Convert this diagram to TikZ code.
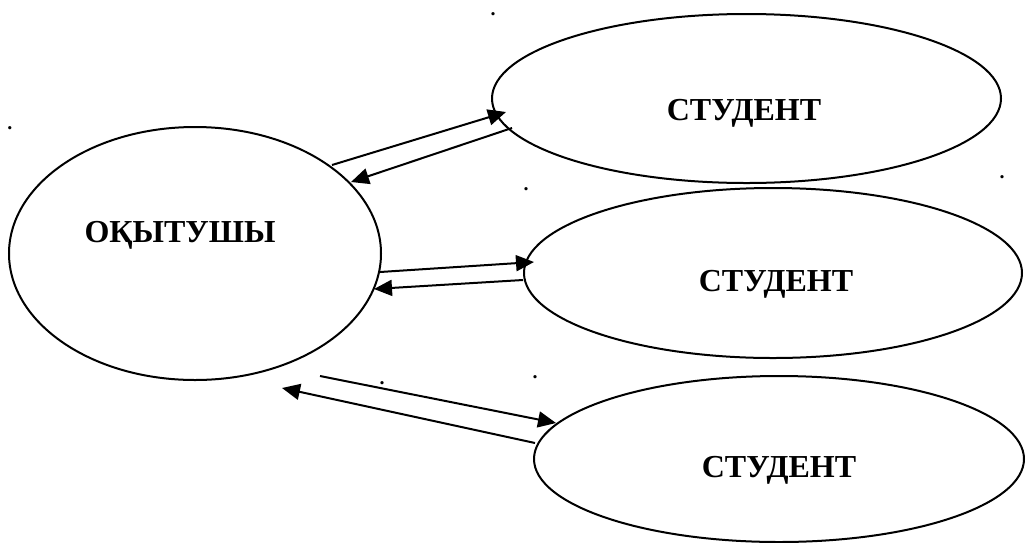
\documentclass[tikz,border=0pt]{standalone}
\usepackage{fontspec}
\setmainfont{Liberation Serif}
\usetikzlibrary{shapes.geometric,arrows.meta}
\tikzset{
  oval/.style={draw, ellipse, line width=2pt, inner sep=0pt, outer sep=0pt},
  lbl/.style={font=\fontsize{32}{36}\selectfont\bfseries, anchor=base, inner sep=0pt},
  link/.style={line width=2pt, -{Triangle[length=18pt,width=16pt]}},
  speck/.style={font=\fontsize{20}{22}\selectfont\bfseries, anchor=base, inner sep=0pt}
}
\begin{document}
\begin{tikzpicture}[x=1pt,y=-1pt]
\useasboundingbox (0,0) rectangle (1026,542);
% ellipses
\node[oval, minimum width=372pt, minimum height=253pt] (T) at (195,253.5) {};
\node[oval, minimum width=509pt, minimum height=169pt] (S1) at (746.5,98.5) {};
\node[oval, minimum width=498pt, minimum height=170pt] (S2) at (773,273) {};
\node[oval, minimum width=490pt, minimum height=166pt] (S3) at (779,459) {};
% labels
\node[lbl] (tT) at (180,242) {ОҚЫТУШЫ};
\node[lbl] (t1) at (744,120) {СТУДЕНТ};
\node[lbl] (t2) at (776,291) {СТУДЕНТ};
\node[lbl] (t3) at (779,477) {СТУДЕНТ};
% arrow end points
\coordinate (a1s) at (332,165);
\coordinate (a1e) at (506,112);
\coordinate (b1s) at (512,128);
\coordinate (b1e) at (351,182);
\coordinate (a2s) at (380,272);
\coordinate (a2e) at (534,262);
\coordinate (b2s) at (523,280);
\coordinate (b2e) at (374,289);
\coordinate (a3s) at (320,376);
\coordinate (a3e) at (556,423);
\coordinate (b3s) at (535,443);
\coordinate (b3e) at (282,388);
\draw[link] (a1s) -- (a1e);
\draw[link] (b1s) -- (b1e);
\draw[link] (a2s) -- (a2e);
\draw[link] (b2s) -- (b2e);
\draw[link] (a3s) -- (a3e);
\draw[link] (b3s) -- (b3e);
% stray dots
\node[speck] (d1) at (493,15) {.};
\node[speck] (d2) at (10,129) {.};
\node[speck] (d3) at (526,190) {.};
\node[speck] (d4) at (1002,178) {.};
\node[speck] (d5) at (382,384) {.};
\node[speck] (d6) at (535,378) {.};
\end{tikzpicture}
\end{document}
